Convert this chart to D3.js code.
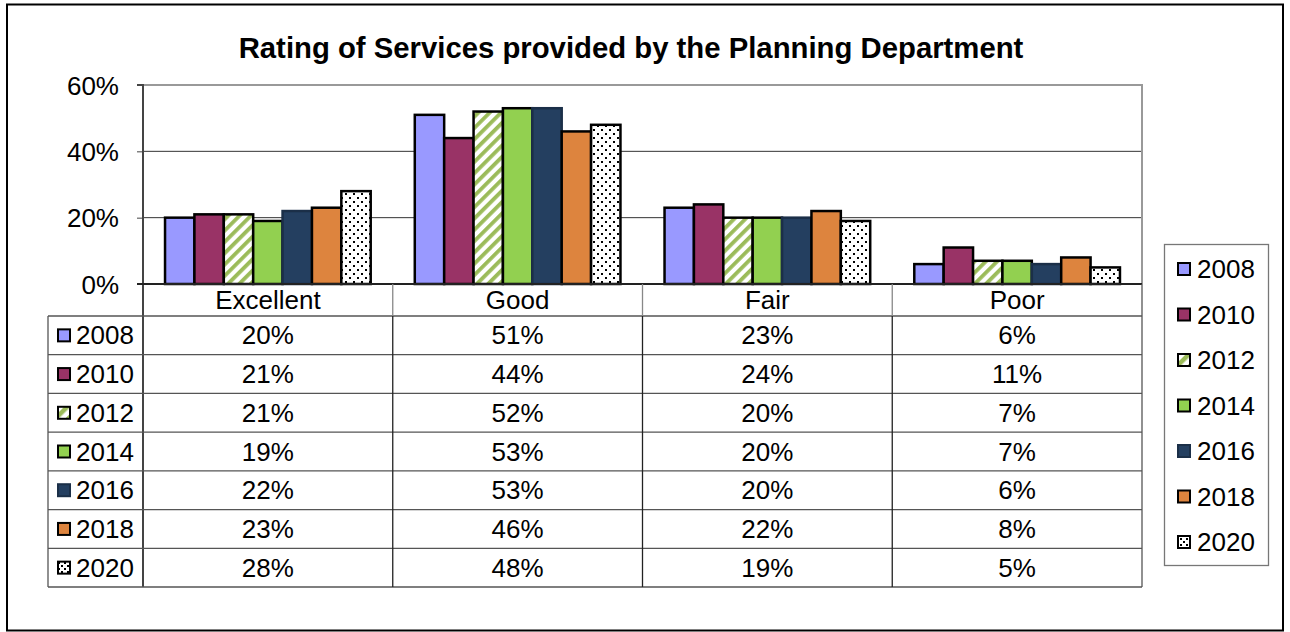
<!DOCTYPE html>
<html>
<head>
<meta charset="utf-8">
<script src="https://cdn.jsdelivr.net/npm/d3@7"></script>
<style>
  html, body { margin: 0; padding: 0; background: #fff; }
  svg { display: block; font-family: Arial, "Liberation Sans", sans-serif; }
</style>
</head>
<body>
<svg id="chart" width="1290" height="632"></svg>
<script>
// Survey ratings by year
const categories = ["Excellent", "Good", "Fair", "Poor"];
const years = ["2008", "2010", "2012", "2014", "2016", "2018", "2020"];
const v2008 = [20, 51, 23, 6];
const v2010 = [21, 44, 24, 11];
const v2012 = [21, 52, 20, 7];
const v2014 = [19, 53, 20, 7];
const v2016 = [22, 53, 20, 6];
const v2018 = [23, 46, 22, 8];
const v2020 = [28, 48, 19, 5];
const yTicks = [0, 20, 40, 60];
const titleText = "Rating of Services provided by the Planning Department";

const seriesValues = [v2008, v2010, v2012, v2014, v2016, v2018, v2020];
const fills = ["#9999FF", "#993366", "url(#stripes)", "#92D050", "#243F60", "#DD843E", "url(#dots)"];
const strokes = ["#000", "#000", "#000", "#000", "#1b2f48", "#000", "#000"];
const swatchFills = ["#9999FF", "#993366", "url(#stripesSmall)", "#92D050", "#243F60", "#DD843E", "url(#dotsSmall)"];
const FS = 26;

const svg = d3.select("#chart");
const defs = svg.append("defs");

// diagonal green stripes
function stripePattern(id, size, width) {
  const p = defs.append("pattern").attr("id", id).attr("patternUnits", "userSpaceOnUse")
    .attr("width", size).attr("height", size).attr("patternTransform", "rotate(45)");
  p.append("rect").attr("width", size).attr("height", size).attr("fill", "#fff");
  p.append("rect").attr("x", 0).attr("width", width).attr("height", size).attr("fill", "#9BBB59");
}
stripePattern("stripes", 8, 3.8);
stripePattern("stripesSmall", 9, 4.5);

// black dot grid
function dotPattern(id, size, r) {
  const p = defs.append("pattern").attr("id", id).attr("patternUnits", "userSpaceOnUse")
    .attr("width", size).attr("height", size);
  p.append("rect").attr("width", size).attr("height", size).attr("fill", "#fff");
  p.append("rect").attr("x", 1).attr("y", 1).attr("width", r).attr("height", r).attr("fill", "#000");
  p.append("rect").attr("x", size / 2 + 1).attr("y", size / 2 + 1).attr("width", r).attr("height", r).attr("fill", "#000");
}
dotPattern("dots", 8, 2);
dotPattern("dotsSmall", 6, 2);

// outer frame
svg.append("rect").attr("x", 7).attr("y", 4.5).attr("width", 1276).attr("height", 626)
  .attr("fill", "#fff").attr("stroke", "#000").attr("stroke-width", 2);

// title
svg.append("text").attr("x", 631).attr("y", 58).attr("text-anchor", "middle")
  .attr("font-size", 29.3).attr("font-weight", "bold").text(titleText);

// plot geometry
const plot = { left: 143, right: 1142, top: 85, bottom: 284 };
const x = d3.scaleBand().domain(categories).range([plot.left, plot.right]);
const xs = d3.scaleBand().domain(years).range([0, x.bandwidth()]).paddingInner(0).paddingOuter(0.75);
const y = d3.scaleLinear().domain([0, 60]).range([plot.bottom, plot.top]);

// gridlines
svg.append("g").selectAll("line").data(yTicks.filter(t => t > 0 && t < 60)).join("line")
  .attr("x1", plot.left).attr("x2", plot.right)
  .attr("y1", d => y(d)).attr("y2", d => y(d))
  .attr("stroke", "#333").attr("stroke-width", 1);

// plot border (top/right gray)
svg.append("path")
  .attr("d", `M${plot.left},${plot.top}H${plot.right}V${plot.bottom}`)
  .attr("fill", "none").attr("stroke", "#999").attr("stroke-width", 2);

// bars
const barData = [];
seriesValues.forEach((vals, si) => vals.forEach((v, ci) => barData.push({ si, ci, v })));
svg.append("g").selectAll("rect").data(barData).join("rect")
  .attr("x", d => x(categories[d.ci]) + xs(years[d.si]))
  .attr("y", d => y(d.v))
  .attr("width", xs.bandwidth())
  .attr("height", d => y(0) - y(d.v))
  .attr("fill", d => fills[d.si])
  .attr("stroke", d => strokes[d.si])
  .attr("stroke-width", 2.5);

// y axis
const yAxis = svg.append("g").attr("transform", `translate(${plot.left},0)`)
  .call(d3.axisLeft(y).tickValues(yTicks).tickFormat(d => d + "%").tickSize(6).tickPadding(18));
yAxis.select(".domain").attr("stroke", "#444").attr("stroke-width", 2)
  .attr("d", `M-6,${plot.top}H0V${plot.bottom + 303}`);
yAxis.selectAll(".tick line").attr("stroke", "#444").attr("stroke-width", 1);
yAxis.selectAll(".tick text").attr("font-size", FS).attr("fill", "#000")
  .attr("font-family", "Arial, 'Liberation Sans', sans-serif").attr("dy", "0.35em");

// baseline
svg.append("line").attr("x1", plot.left - 6).attr("x2", plot.right)
  .attr("y1", y(0)).attr("y2", y(0)).attr("stroke", "#222").attr("stroke-width", 2);

// data table
const tableLeft = 48, headerBottom = 316, tableBottom = 587;
const rowH = (tableBottom - headerBottom) / years.length;
const tbl = svg.append("g");
// horizontal rules
d3.range(years.length + 1).forEach(i => {
  const yy = headerBottom + i * rowH;
  tbl.append("line").attr("x1", tableLeft).attr("x2", plot.right)
    .attr("y1", yy).attr("y2", yy).attr("stroke", "#555").attr("stroke-width", 1.3);
});
// vertical rules
categories.forEach((c, i) => {
  if (i === 0) return;
  const xx = x(c);
  tbl.append("line").attr("x1", xx).attr("x2", xx).attr("y1", plot.bottom).attr("y2", headerBottom)
    .attr("stroke", "#888").attr("stroke-width", 1.3);
  tbl.append("line").attr("x1", xx).attr("x2", xx).attr("y1", headerBottom).attr("y2", tableBottom)
    .attr("stroke", "#222").attr("stroke-width", 1.3);
});
tbl.append("line").attr("x1", plot.right).attr("x2", plot.right).attr("y1", plot.bottom).attr("y2", tableBottom)
  .attr("stroke", "#555").attr("stroke-width", 1.3);
tbl.append("line").attr("x1", tableLeft).attr("x2", tableLeft).attr("y1", headerBottom).attr("y2", tableBottom)
  .attr("stroke", "#555").attr("stroke-width", 1.3);

// header labels
tbl.selectAll("text.cat").data(categories).join("text").attr("class", "cat")
  .attr("x", d => x(d) + x.bandwidth() / 2).attr("y", 309)
  .attr("text-anchor", "middle").attr("font-size", FS).text(d => d);

// row keys and values
years.forEach((yr, si) => {
  const cy = headerBottom + si * rowH + rowH / 2;
  tbl.append("rect").attr("x", 58).attr("y", cy - 6).attr("width", 12).attr("height", 12)
    .attr("fill", swatchFills[si]).attr("stroke", strokes[si]).attr("stroke-width", 2);
  tbl.append("text").attr("x", 76).attr("y", cy + 9).attr("font-size", FS).text(yr);
  seriesValues[si].forEach((v, ci) => {
    tbl.append("text").attr("x", x(categories[ci]) + x.bandwidth() / 2).attr("y", cy + 9)
      .attr("text-anchor", "middle").attr("font-size", FS).text(v + "%");
  });
});

// legend
const lg = svg.append("g");
lg.append("rect").attr("x", 1164.5).attr("y", 244.5).attr("width", 104).attr("height", 321)
  .attr("fill", "#fff").attr("stroke", "#777").attr("stroke-width", 1.3);
const ly = d3.scalePoint().domain(years).range([269, 542]);
years.forEach((yr, si) => {
  lg.append("rect").attr("x", 1178).attr("y", ly(yr) - 6).attr("width", 12).attr("height", 12)
    .attr("fill", swatchFills[si]).attr("stroke", strokes[si]).attr("stroke-width", 2);
  lg.append("text").attr("x", 1197).attr("y", ly(yr) + 9).attr("font-size", FS).text(yr);
});
</script>
</body>
</html>
